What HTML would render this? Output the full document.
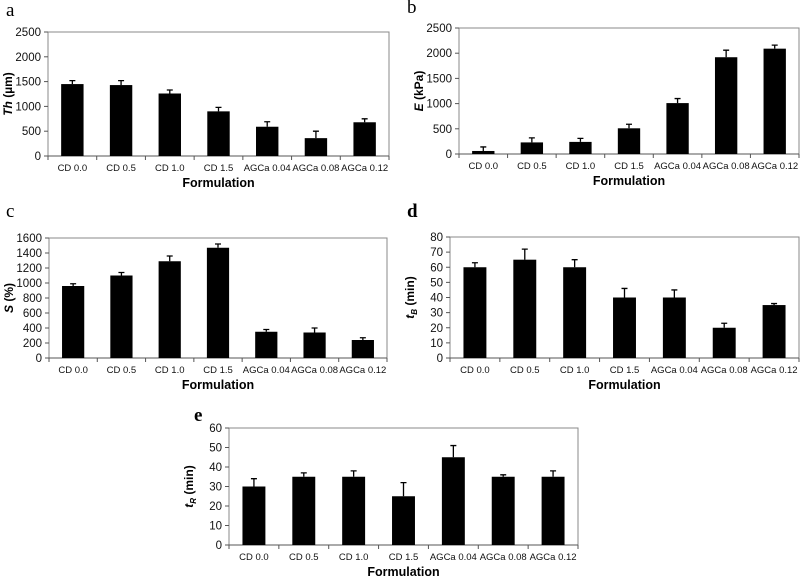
<!DOCTYPE html>
<html><head><meta charset="utf-8"><style>
body{margin:0;background:#fff;width:800px;height:577px;overflow:hidden}
svg{display:block;font-family:"Liberation Sans",Arial,sans-serif}
</style></head><body>
<svg id="fig" width="800" height="577" viewBox="0 0 800 577"></svg>
<script>
const categories=["CD 0.0","CD 0.5","CD 1.0","CD 1.5","AGCa 0.04","AGCa 0.08","AGCa 0.12"];
const thValues=[1450,1430,1260,900,590,360,680];
const thErrors=[70,90,70,80,100,140,70];
const thTicks=[0,500,1000,1500,2000,2500];
const eValues=[60,230,240,510,1010,1920,2090];
const eErrors=[80,90,70,80,90,140,70];
const eTicks=[0,500,1000,1500,2000,2500];
const sValues=[960,1100,1290,1470,350,340,240];
const sErrors=[30,40,70,50,30,60,30];
const sTicks=[0,200,400,600,800,1000,1200,1400,1600];
const tbValues=[60,65,60,40,40,20,35];
const tbErrors=[3,7,5,6,5,3,1];
const tbTicks=[0,10,20,30,40,50,60,70,80];
const trValues=[30,35,35,25,45,35,35];
const trErrors=[4,2,3,7,6,1,3];
const trTicks=[0,10,20,30,40,50,60];

const NS="http://www.w3.org/2000/svg";
const svg=document.getElementById('fig');
function mk(tag,attrs,parent,text){const e=document.createElementNS(NS,tag);for(const k in attrs)e.setAttribute(k,attrs[k]);if(text!==undefined)e.textContent=text;(parent||svg).appendChild(e);return e;}

function panel(id,letter,lx,ly,L,T,R,B,values,errors,ticks,titleMain,titleSub,titleRest){
  const g=mk('g',{});
  
  
  const max=ticks[ticks.length-1];
  const y=v=>B-(v/max)*(B-T);
  const cw=(R-L)/categories.length;
  const x=i=>L+cw*(i+0.5);
  const lt=mk('text',{x:lx,y:ly,'font-family':'Liberation Serif,serif','font-size':19,'font-weight':(id==='d'||id==='e')?'bold':'normal'},g,letter);
  
  
  const box=mk('rect',{x:L,y:T,width:R-L,height:B-T,fill:'none',stroke:'#888','stroke-width':1},g);
  
  
  mk('line',{x1:L,y1:B,x2:R,y2:B,stroke:'#555','stroke-width':1},g);
  ticks.forEach(t=>{
    mk('line',{x1:L-4,y1:y(t),x2:L,y2:y(t),stroke:'#555'},g);
    const tl=mk('text',{x:L-7,y:y(t)+4,'text-anchor':'end','font-size':11.5,fill:'#111'},g,String(t));
    
    
  });
  for(let i=0;i<=categories.length;i++){mk('line',{x1:L+cw*i,y1:B,x2:L+cw*i,y2:B+4,stroke:'#555'},g);}
  categories.forEach((c,i)=>{
    const bw=cw*0.46;
    const bar=mk('rect',{x:x(i)-bw/2,y:y(values[i]),width:bw,height:B-y(values[i]),fill:'#000'},g);
    
    
    const top=y(values[i]+errors[i]);
    const eb=mk('path',{d:`M${x(i)} ${y(values[i])}V${top}M${x(i)-3} ${top}H${x(i)+3}`,stroke:'#000','stroke-width':1.3,fill:'none'},g);
    
    
    const cl=mk('text',{x:x(i),y:B+15,'text-anchor':'middle','font-size':9.5,fill:'#111'},g,c);
    
    
  });
  const xt=mk('text',{x:(L+R)/2,y:B+31,'text-anchor':'middle','font-size':12.5,'font-weight':'bold'},g,'Formulation');
  
  
  const yt=mk('text',{transform:`translate(${L-36},${(T+B)/2}) rotate(-90)`,'text-anchor':'middle','font-size':12,'font-weight':'bold'},g);
  
  
  mk('tspan',{'font-style':'italic'},yt,titleMain);
  if(titleSub){mk('tspan',{'font-style':'italic','font-size':8,dy:3},yt,titleSub);mk('tspan',{dy:-3},yt,titleRest);}
  else mk('tspan',{},yt,titleRest);
}
panel('a','a',6,16,48,32,389,156,thValues,thErrors,thTicks,'Th','',' (µm)');
panel('b','b',407,13,459,28,799,154,eValues,eErrors,eTicks,'E','',' (kPa)');
panel('c','c',6,217,49,238,387,358,sValues,sErrors,sTicks,'S','',' (%)');
panel('d','d',407,217,450,237,799,358,tbValues,tbErrors,tbTicks,'t','B',' (min)');
panel('e','e',194,421,229,428,578,545,trValues,trErrors,trTicks,'t','R',' (min)');
</script>
</body></html>
